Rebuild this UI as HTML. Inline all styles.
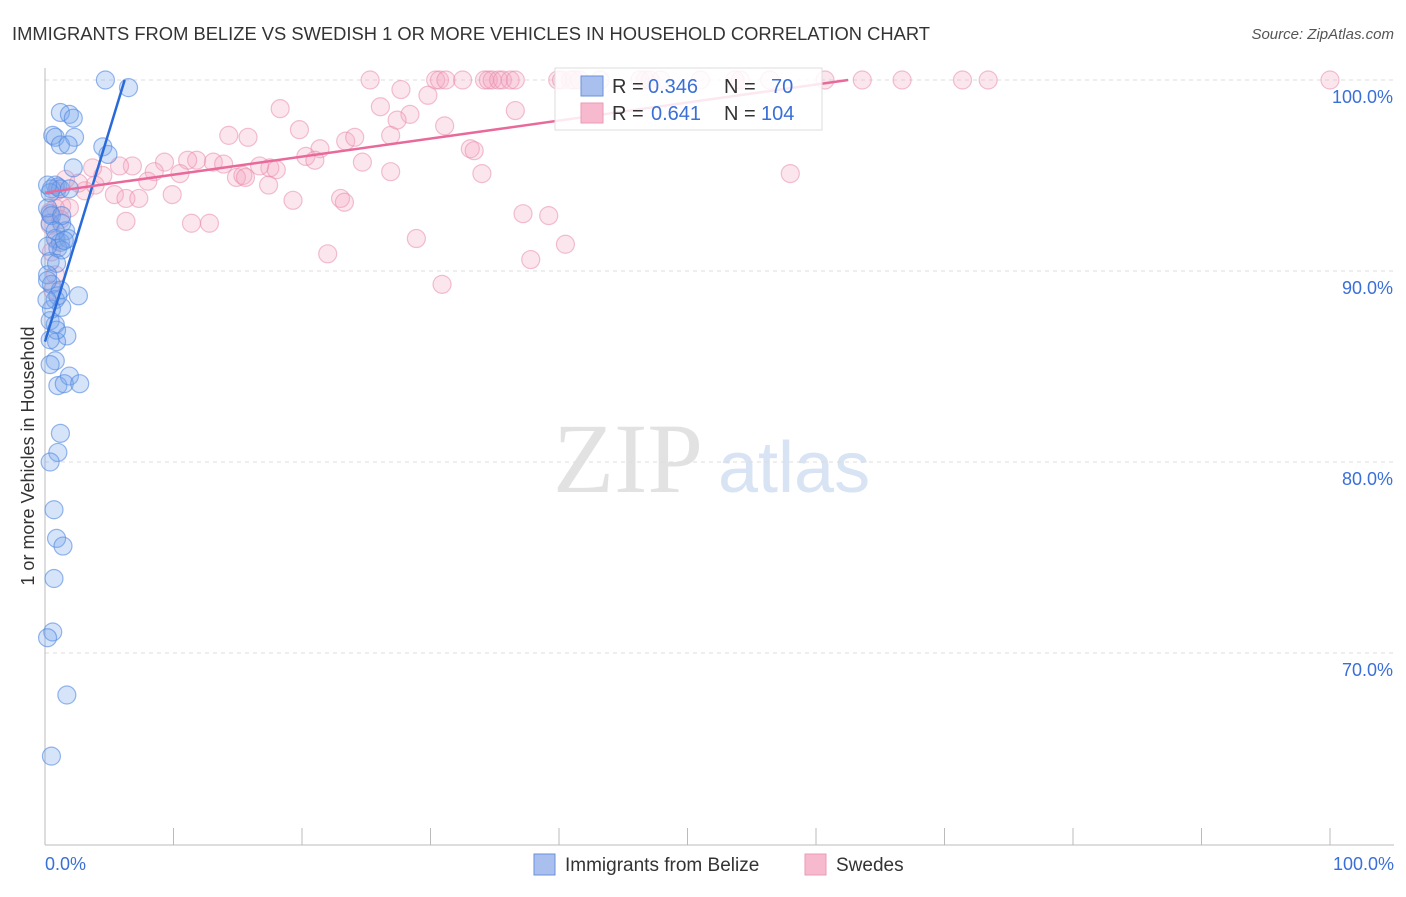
<!DOCTYPE html>
<html><head><meta charset="utf-8"><style>
body{margin:0;background:#fff;font-family:"Liberation Sans",sans-serif;}
</style></head><body>
<svg id="c" width="1406" height="892" font-family="Liberation Sans, sans-serif">
<text x="12" y="40" font-size="18" fill="#333" textLength="918" lengthAdjust="spacingAndGlyphs">IMMIGRANTS FROM BELIZE VS SWEDISH 1 OR MORE VEHICLES IN HOUSEHOLD CORRELATION CHART</text>
<text x="1394" y="39" font-size="15" fill="#555" text-anchor="end" font-style="italic">Source: ZipAtlas.com</text>
<text transform="translate(34,456) rotate(-90)" font-size="18" fill="#333" text-anchor="middle">1 or more Vehicles in Household</text>
<text x="553" y="492" font-size="100" fill="#e2e2e2" style="font-family:'Liberation Serif',serif">ZIP</text>
<text x="718" y="492" font-size="72" fill="#d8e3f4">atlas</text>
<g id="grid"></g><g id="axes"></g><g id="pts"></g><g id="trend"></g>
<g>
<rect x="555" y="68" width="267" height="62" fill="#fff" fill-opacity="0.85" stroke="#ddd"/>
<rect x="581" y="76" width="22" height="20" fill="#a9c0ef" stroke="#6a90d8"/>
<rect x="581" y="103" width="22" height="20" fill="#f7b9cd" stroke="#ec9ab6"/>
<g font-size="20">
<text x="612" y="93" fill="#333">R =</text><text x="648" y="93" fill="#3a6fd8">0.346</text>
<text x="724" y="93" fill="#333">N =</text><text x="771" y="93" fill="#3a6fd8">70</text></g>
<g font-size="20">
<text x="612" y="120" fill="#333">R =</text><text x="651" y="120" fill="#3a6fd8">0.641</text>
<text x="724" y="120" fill="#333">N =</text><text x="761" y="120" fill="#3a6fd8">104</text></g>
</g>
<g>
<rect x="534" y="854" width="21" height="21" fill="#a9c0ef" stroke="#6a90d8"/>
<text x="565" y="871" font-size="19" fill="#333">Immigrants from Belize</text>
<rect x="805" y="854" width="21" height="21" fill="#f7b9cd" stroke="#ec9ab6"/>
<text x="836" y="871" font-size="19" fill="#333">Swedes</text>
</g>
</svg>
<script>
const yTicks=[100,90,80,70];
const xTickLabels=["0.0%","100.0%"];
const belizeX=[4.7,6.5,1.2,1.9,2.2,0.6,0.8,2.3,1.2,1.8,4.5,4.9,2.2,0.8,1.0,0.5,1.2,0.4,0.4,0.4,1.3,1.6,0.8,1.2,1.8,1.0,1.3,0.4,0.9,0.2,0.5,1.2,2.6,0.8,1.3,0.4,0.8,1.7,0.9,0.8,0.4,1.0,1.9,1.5,2.7,1.2,1.0,0.4,0.7,0.9,1.4,0.7,0.6,0.2,1.7,0.5,0.2,0.2,0.5,1.9,0.2,1.3,0.8,0.2,1.0,0.5,0.15,0.9,1.5,0.4];
const belizeY=[100,99.6,98.3,98.2,98.0,97.1,97.0,97.0,96.6,96.6,96.5,96.1,95.4,94.5,94.4,94.3,94.3,94.1,93.0,92.5,92.5,92.1,91.7,91.5,91.7,91.2,91.1,90.5,90.4,89.8,89.3,89.0,88.7,88.5,88.1,87.4,87.2,86.6,86.3,85.3,85.1,84.0,84.5,84.1,84.1,81.5,80.5,80.0,77.5,76.0,75.6,73.9,71.1,70.8,67.8,64.6,91.3,93.3,92.9,94.3,94.5,92.9,92.1,89.5,88.7,88.0,88.5,86.9,91.6,86.4];
const swedeX=[25.3,30.4,30.7,31.2,32.5,34.2,34.5,34.8,35.3,35.6,36.2,36.6,39.9,40.2,40.9,41.2,41.6,43.2,46.3,46.7,47.1,47.9,51.0,53.7,54.1,56.4,60.7,63.6,66.7,71.4,73.4,100,
27.7,29.8,18.3,36.6,26.1,31.1,33.1,23.4,26.9,28.4,27.4,19.8,21.4,15.8,20.3,21.0,24.1,14.3,24.7,26.9,34.0,33.4,39.2,58.0,17.5,18.0,13.1,13.9,11.8,11.1,9.3,10.5,8.5,6.8,8.0,4.5,5.8,3.7,14.9,15.4,16.7,17.4,5.4,6.3,7.3,9.9,3.1,19.3,23.0,23.3,3.9,1.6,2.6,0.9,1.3,1.9,6.3,11.4,12.8,22.0,28.9,37.2,40.5,37.8,30.9,0.8,1.2,0.4,0.9,0.8,0.6,0.4,0.5,15.6];
const swedeY=[100,100,100,100,100,100,100,100,100,100,100,100,100,100,100,100,100,100,100,100,100,100,100,100,100,100,100,100,100,100,100,100,
99.5,99.2,98.5,98.4,98.6,97.6,96.4,96.8,97.1,98.2,97.9,97.4,96.4,97.0,96.0,95.8,97.0,97.1,95.7,95.2,95.1,96.3,92.9,95.1,95.4,95.3,95.7,95.6,95.8,95.8,95.7,95.1,95.2,95.5,94.7,95.0,95.5,95.4,94.9,95.0,95.5,94.5,94.0,93.8,93.8,94.0,94.2,93.7,93.8,93.6,94.5,94.8,94.6,94.2,93.4,93.3,92.6,92.5,92.5,90.9,91.7,93.0,91.4,90.6,89.3,93.3,92.7,93.1,91.6,89.8,89.0,92.4,91.0,94.9];
const trendBelize=[[0,86.3],[6.2,100]];
const trendSwede=[[0,94.1],[62.5,100]];
const X=v=>45+v*12.85, Y=v=>80+(100-v)*19.1;
const NS="http://www.w3.org/2000/svg";
function mk(t,a,p){const e=document.createElementNS(NS,t);for(const k in a)e.setAttribute(k,a[k]);p.appendChild(e);return e;}
const grid=document.getElementById('grid'),axes=document.getElementById('axes'),pts=document.getElementById('pts'),tr=document.getElementById('trend');
yTicks.forEach(t=>{
 const l=mk('line',{x1:45,x2:1394,y1:Y(t),y2:Y(t),stroke:'#ddd','stroke-dasharray':'4,4'},grid);
 
 
 const tx=mk('text',{x:1393,y:Y(t)+23,'font-size':18,fill:'#3a6fd8','text-anchor':'end'},grid);
 tx.textContent=t.toFixed(1)+'%';
 
 
});
const ya=mk('line',{x1:45,x2:45,y1:68,y2:845,stroke:'#bbb'},axes);


const xa=mk('line',{x1:45,x2:1394,y1:845,y2:845,stroke:'#bbb'},axes);


for(let i=0;i<=10;i++){
 const t=mk('line',{x1:X(i*10),x2:X(i*10),y1:828,y2:845,stroke:'#bbb'},axes);
 
 
}
[[0,'start',45],[1,'end',1394]].forEach(([i,a,x])=>{
 const t=mk('text',{x:x,y:870,'font-size':18,fill:'#3a6fd8','text-anchor':a},axes);
 t.textContent=xTickLabels[i];
 
 
});
swedeX.forEach((x,i)=>{
 const c=mk('circle',{cx:X(x),cy:Y(swedeY[i]),r:9,fill:'rgba(245,165,195,0.28)',stroke:'rgba(232,140,172,0.55)','stroke-width':1.2},pts);
 
 
});
belizeX.forEach((x,i)=>{
 const c=mk('circle',{cx:X(x),cy:Y(belizeY[i]),r:9,fill:'rgba(120,165,235,0.3)',stroke:'rgba(80,135,225,0.6)','stroke-width':1.2},pts);
 
 
});
const tb=mk('line',{x1:X(trendBelize[0][0]),y1:Y(trendBelize[0][1]),x2:X(trendBelize[1][0]),y2:Y(trendBelize[1][1]),stroke:'#2a6ad8','stroke-width':2.5},tr);


const ts=mk('line',{x1:X(trendSwede[0][0]),y1:Y(trendSwede[0][1]),x2:X(trendSwede[1][0]),y2:Y(trendSwede[1][1]),stroke:'#e8699a','stroke-width':2.5},tr);


</script>
</body></html>
